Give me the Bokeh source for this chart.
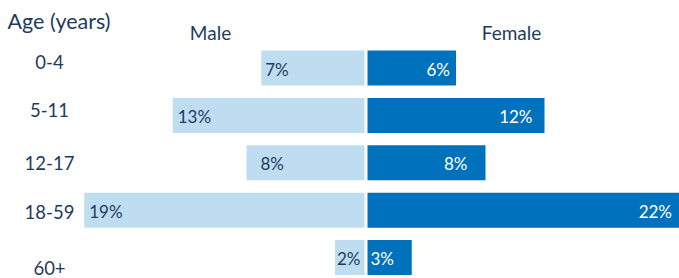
from bokeh.plotting import figure
from bokeh.models import ColumnDataSource, Range1d
from bokeh.core.properties import value
from bokeh.embed import file_html
from bokeh.resources import INLINE

# ---- data ----
age_groups = ["0-4", "5-11", "12-17", "18-59", "60+"]
male = [7, 13, 8, 19, 2]
female = [6, 12, 8, 22, 3]
male_labels = ["7%", "13%", "8%", "19%", "2%"]
female_labels = ["6%", "12%", "8%", "22%", "3%"]

# ---- styles ----
FONT = "Lato"
NAVY = "#1F3A60"
LIGHT = "#BFDDF0"
DARK = "#0071BC"
cat_label_dy = [-6.5, -5.0, 0.5, 1.5, 10.0]     # px shift of category labels
male_lbl_dx = [4, 5, 14, 5, 2]                   # px inset from bar start
female_lbl_dx = [-6, -12, -18, -20, 3]           # px inset from bar end / start
female_lbl_align = ["right", "right", "right", "right", "left"]

W, H = 679, 278
px_per_unit = 14.75
center_px = 365.5
x0 = -center_px / px_per_unit
x1 = (W - center_px) / px_per_unit
gap = 1.5 / px_per_unit

row_px = 47.4
first_px = 67.5
y_top = -first_px / row_px
y_bot = (H - first_px) / row_px

p = figure(width=W, height=H, output_backend="svg", toolbar_location=None,
           x_range=Range1d(x0, x1), y_range=Range1d(y_bot, y_top),
           min_border=0, outline_line_color=None)
p.axis.visible = False
p.grid.visible = False
p.background_fill_color = "white"
p.border_fill_color = "white"

idx = list(range(len(age_groups)))
src = ColumnDataSource(dict(
    y=idx,
    m_left=[-v - gap for v in male],
    m_right=[-gap] * len(male),
    f_left=[gap] * len(female),
    f_right=[v + gap for v in female],
    cat=age_groups,
    cat_y=[i + d / row_px for i, d in zip(idx, cat_label_dy)],
    ml=male_labels, fl=female_labels,
    ml_x=[-v - gap + d / px_per_unit for v, d in zip(male, male_lbl_dx)],
    fl_x=[(v + gap if a == "right" else gap) + d / px_per_unit
          for v, d, a in zip(female, female_lbl_dx, female_lbl_align)],
    fl_align=female_lbl_align,
))

bh = 35 / row_px
p.hbar(y="y", left="m_left", right="m_right", height=bh, source=src,
       fill_color=LIGHT, line_color=None)
p.hbar(y="y", left="f_left", right="f_right", height=bh, source=src,
       fill_color=DARK, line_color=None)

p.text(x="ml_x", y="y", text="ml", source=src, text_font=value(FONT),
       text_font_size="17px", text_color=NAVY, text_align="left",
       text_baseline="middle", y_offset=1)
p.text(x="fl_x", y="y", text="fl", source=src, text_font=value(FONT),
       text_font_size="17px", text_color="white", text_align="fl_align",
       text_baseline="middle", y_offset=1)

cat_x = (49 - center_px) / px_per_unit
p.text(x=cat_x, y="cat_y", text="cat", source=src, text_font=value(FONT),
       text_font_size="18.5px", text_color=NAVY, text_align="center",
       text_baseline="middle")

# headers
hdr = ColumnDataSource(dict(
    x=[(7 - center_px) / px_per_unit, (210 - center_px) / px_per_unit, (511 - center_px) / px_per_unit],
    y=[(20 - first_px) / row_px, (32 - first_px) / row_px, (32 - first_px) / row_px],
    t=["Age (years)", "Male", "Female"],
    a=["left", "center", "center"],
    s=["21.5px", "19px", "19px"],
))
p.text(x="x", y="y", text="t", text_align="a", text_font_size="s", source=hdr,
       text_font=value(FONT), text_color=NAVY, text_baseline="middle")

open("out.html", "w").write(file_html(p, INLINE))
